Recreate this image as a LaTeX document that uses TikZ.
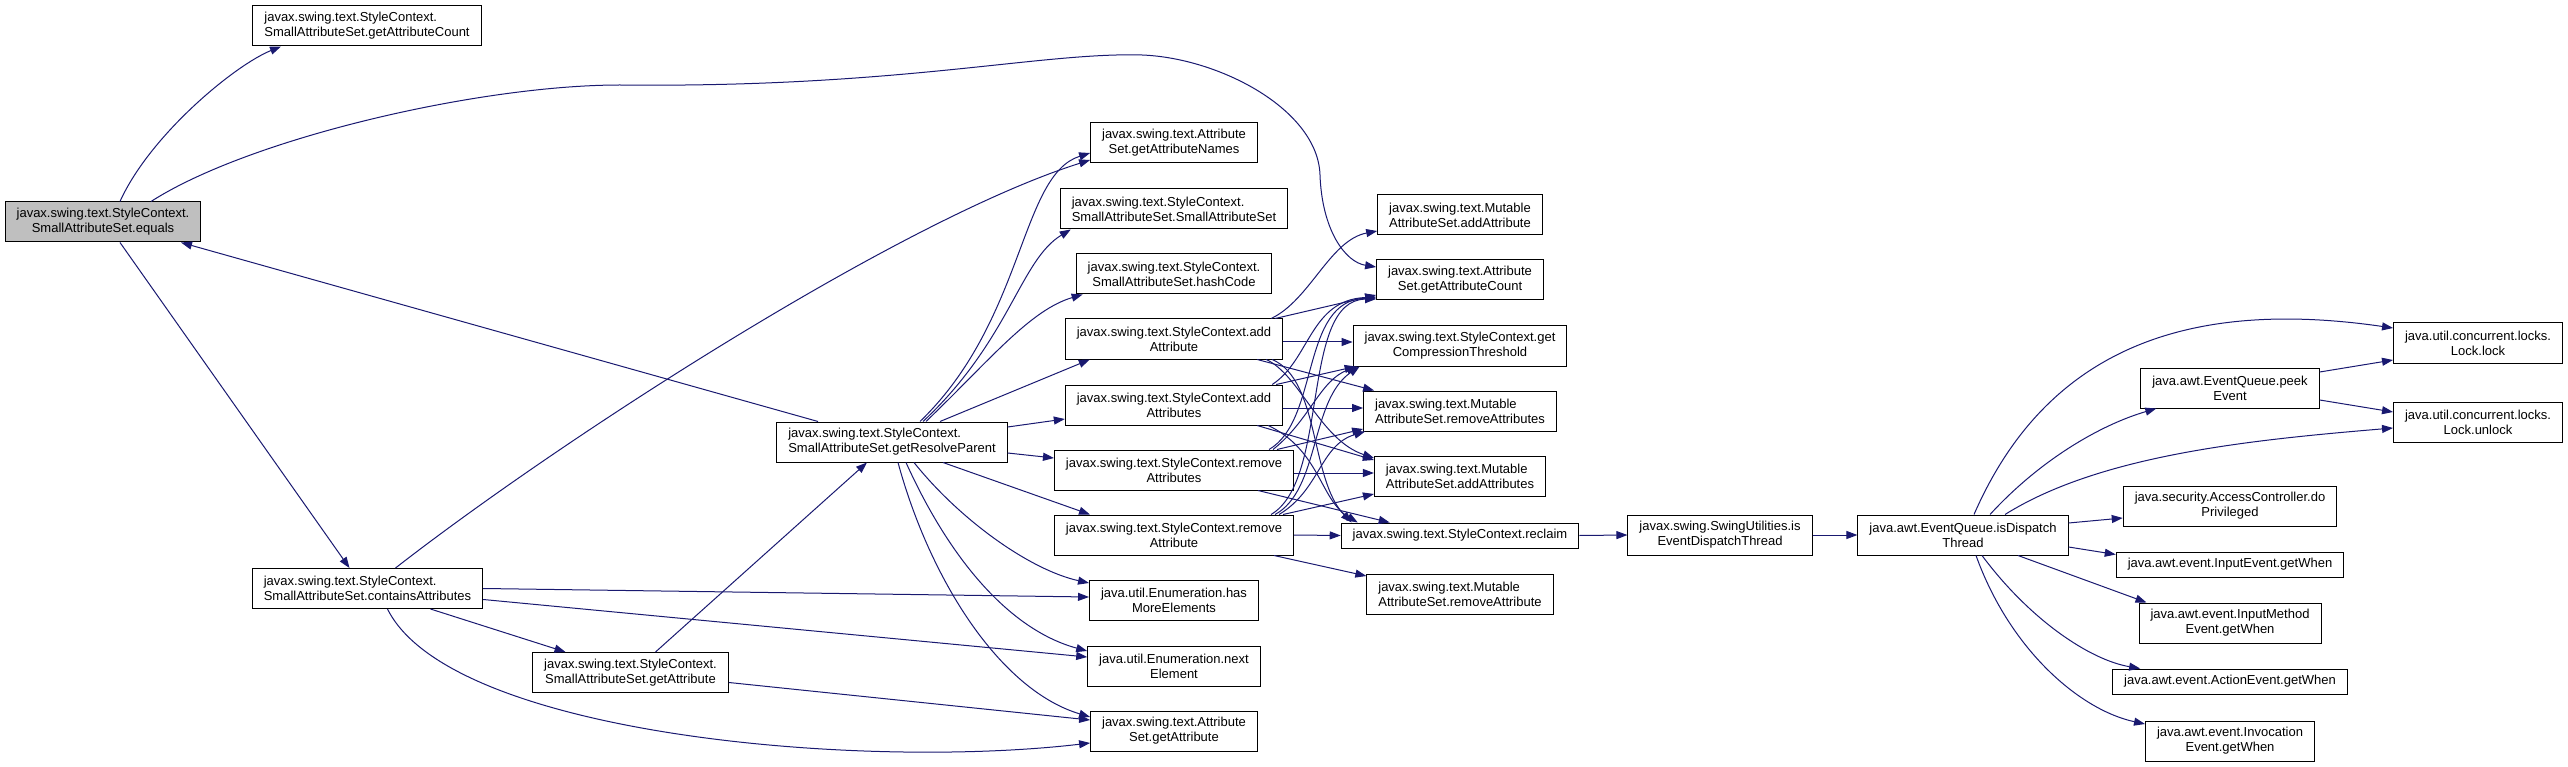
\documentclass[tikz,border=0pt]{standalone}
\usepackage{fontspec}
\setmainfont{Liberation Sans}
\usetikzlibrary{arrows.meta}
\definecolor{callblue}{HTML}{191970}
\newcommand{\twol}[2]{\setbox0=\hbox{#1}\setbox2=\hbox{#2}\dimen0=\wd0 \ifdim\wd2>\dimen0 \dimen0=\wd2 \fi
  \vbox{\hbox to\dimen0{\box0\hfil}\hbox to\dimen0{\hfil\box2\hfil}}}
\tikzset{
  fn/.style={draw=black,fill=white,line width=1pt,inner xsep=11.5pt,inner ysep=0pt,minimum height=40pt,font=\fontsize{13}{15}\selectfont},
  fnone/.style={fn,minimum height=25pt},
  call/.style={draw=callblue,line width=1pt,-{Triangle[length=11pt,width=8pt,fill=callblue]}}
}
\begin{document}
\begin{tikzpicture}[x=1pt,y=-1pt]
\useasboundingbox (0,0) rectangle (2568,767);
\node[fn,fill=black!25] (eq) at (103,222) {\twol{javax.swing.text.StyleContext.}{SmallAttributeSet.equals}};
\node[fn] (sgac) at (367,26) {\twol{javax.swing.text.StyleContext.}{SmallAttributeSet.getAttributeCount}};
\node[fn] (ca) at (367.5,588.5) {\twol{javax.swing.text.StyleContext.}{SmallAttributeSet.containsAttributes}};
\node[fn] (sga) at (630.5,672.5) {\twol{javax.swing.text.StyleContext.}{SmallAttributeSet.getAttribute}};
\node[fn] (grp) at (892,442) {\twol{javax.swing.text.StyleContext.}{SmallAttributeSet.getResolveParent}};
\node[fn] (agan) at (1174,143) {\twol{javax.swing.text.Attribute}{Set.getAttributeNames}};
\node[fn] (sas) at (1174,209) {\twol{javax.swing.text.StyleContext.}{SmallAttributeSet.SmallAttributeSet}};
\node[fn] (shc) at (1174,274) {\twol{javax.swing.text.StyleContext.}{SmallAttributeSet.hashCode}};
\node[fn] (scaa) at (1174,339) {\twol{javax.swing.text.StyleContext.add}{Attribute}};
\node[fn] (scas) at (1174,405) {\twol{javax.swing.text.StyleContext.add}{Attributes}};
\node[fn] (scrs) at (1174,470) {\twol{javax.swing.text.StyleContext.remove}{Attributes}};
\node[fn] (scra) at (1174,535) {\twol{javax.swing.text.StyleContext.remove}{Attribute}};
\node[fn] (hme) at (1174,600) {\twol{java.util.Enumeration.has}{MoreElements}};
\node[fn] (ne) at (1174,666) {\twol{java.util.Enumeration.next}{Element}};
\node[fn] (aga) at (1174,731) {\twol{javax.swing.text.Attribute}{Set.getAttribute}};
\node[fn] (maa) at (1460,215) {\twol{javax.swing.text.Mutable}{AttributeSet.addAttribute}};
\node[fn] (agc) at (1460,280) {\twol{javax.swing.text.Attribute}{Set.getAttributeCount}};
\node[fn] (gct) at (1460,346) {\twol{javax.swing.text.StyleContext.get}{CompressionThreshold}};
\node[fn] (mrs) at (1460,411) {\twol{javax.swing.text.Mutable}{AttributeSet.removeAttributes}};
\node[fn] (mas) at (1460,476) {\twol{javax.swing.text.Mutable}{AttributeSet.addAttributes}};
\node[fnone] (rcl) at (1460,535.5) {javax.swing.text.StyleContext.reclaim};
\node[fn] (mra) at (1460,594) {\twol{javax.swing.text.Mutable}{AttributeSet.removeAttribute}};
\node[fn] (ied) at (1720,535) {\twol{javax.swing.SwingUtilities.is}{EventDispatchThread}};
\node[fn] (idt) at (1963,535) {\twol{java.awt.EventQueue.isDispatch}{Thread}};
\node[fn] (pe) at (2230,388) {\twol{java.awt.EventQueue.peek}{Event}};
\node[fn] (dp) at (2230,506) {\twol{java.security.AccessController.do}{Privileged}};
\node[fnone] (iew) at (2230,564.5) {java.awt.event.InputEvent.getWhen};
\node[fn] (imw) at (2230,623) {\twol{java.awt.event.InputMethod}{Event.getWhen}};
\node[fnone] (aew) at (2230,681.5) {java.awt.event.ActionEvent.getWhen};
\node[fn] (ivw) at (2230,741) {\twol{java.awt.event.Invocation}{Event.getWhen}};
\node[fn] (lk) at (2478,343) {\twol{java.util.concurrent.locks.}{Lock.lock}};
\node[fn] (ulk) at (2478,422) {\twol{java.util.concurrent.locks.}{Lock.unlock}};
\draw[call] ([xshift=17pt]eq.north) .. controls (150,135) and (235,65) .. ([xshift=-86pt]sgac.south);
\draw[call] ([xshift=48pt]eq.north) .. controls (250,138) and (480,85) .. (620,85) .. controls (900,88) and (1040,52) .. (1142,55) .. controls (1220,58) and (1318,110) .. (1320,175) .. controls (1322,230) and (1345,262) .. ([yshift=13pt]agc.west);
\draw[call] ([xshift=17pt]eq.south) -- ([xshift=-18pt]ca.north);
\draw[call] ([xshift=-74pt]grp.north) -- ([xshift=78pt]eq.south);
\draw[call] ([xshift=28pt]ca.north) .. controls (560,440) and (900,220) .. ([yshift=-17pt]agan.west);
\draw[call] ([xshift=63pt]ca.south) -- ([xshift=-65pt]sga.north);
\draw[call] (ca.east) -- ([yshift=3pt]hme.west);
\draw[call] ([yshift=-11pt]ca.east) -- ([yshift=9pt]ne.west);
\draw[call] ([xshift=20pt]ca.south) .. controls (450,735) and (860,770) .. ([yshift=-12pt]aga.west);
\draw[call] ([xshift=25pt]sga.north) -- ([xshift=-25pt]grp.south);
\draw[call] ([yshift=-10pt]sga.east) -- ([yshift=11pt]aga.west);
\draw[call] ([xshift=28pt]grp.north) .. controls (1025,320) and (1020,175) .. ([yshift=-10pt]agan.west);
\draw[call] ([xshift=31pt]grp.north) .. controls (1010,340) and (1020,260) .. ([xshift=11pt]sas.south west);
\draw[call] ([xshift=34pt]grp.north) .. controls (990,360) and (1030,310) .. ([xshift=7pt]shc.south west);
\draw[call] ([xshift=48pt]grp.north) -- ([xshift=25pt]scaa.south west);
\draw[call] ([yshift=15pt]grp.east) -- ([yshift=-14pt]scas.west);
\draw[call] ([yshift=-11pt]grp.east) -- ([yshift=12pt]scrs.west);
\draw[call] ([xshift=51pt]grp.south) -- ([xshift=36pt]scra.north west);
\draw[call] ([xshift=22pt]grp.south) .. controls (960,520) and (1030,570) .. ([yshift=17pt]hme.west);
\draw[call] ([xshift=14pt]grp.south) .. controls (950,560) and (1010,630) .. ([yshift=15pt]ne.west);
\draw[call] ([xshift=6pt]grp.south) .. controls (930,580) and (1000,690) .. ([yshift=14pt]aga.west);
\draw[call] ([xshift=-12pt]scaa.north east) .. controls (1310,300) and (1330,240) .. ([yshift=-16pt]maa.west);
\draw[call] ([xshift=-8pt]scaa.north east) -- ([yshift=-15pt]agc.west);
\draw[call] ([yshift=-3pt]scaa.east) -- ([yshift=4pt]gct.west);
\draw[call] ([xshift=-26pt]scaa.south east) -- ([xshift=11pt]mrs.north west);
\draw[call] ([xshift=-17pt]scaa.south east) .. controls (1300,375) and (1320,440) .. ([yshift=18pt]mas.west);
\draw[call] ([xshift=-11pt]scaa.south east) .. controls (1320,380) and (1310,480) .. ([xshift=11pt]rcl.north west);
\draw[call] ([xshift=-11pt]scas.north east) .. controls (1310,360) and (1310,300) .. ([yshift=-17pt]agc.west);
\draw[call] ([xshift=-7pt]scas.north east) -- ([xshift=3pt]gct.south west);
\draw[call] ([yshift=-3pt]scas.east) -- ([yshift=3pt]mrs.west);
\draw[call] ([xshift=-26pt]scas.south east) -- ([yshift=16pt]mas.west);
\draw[call] ([xshift=-15pt]scas.south east) .. controls (1320,450) and (1320,500) .. ([xshift=17pt]rcl.north west);
\draw[call] ([xshift=-25pt]scrs.north east) .. controls (1320,420) and (1300,300) .. ([yshift=-18pt]agc.west);
\draw[call] ([xshift=-21pt]scrs.north east) .. controls (1310,420) and (1320,380) .. ([xshift=5pt]gct.south west);
\draw[call] ([xshift=-17pt]scrs.north east) -- ([yshift=-18pt]mrs.west);
\draw[call] ([yshift=-3pt]scrs.east) -- ([yshift=3pt]mas.west);
\draw[call] ([xshift=-36pt]scrs.south east) -- ([xshift=49pt]rcl.north west);
\draw[call] ([xshift=-23pt]scra.north east) .. controls (1330,480) and (1300,300) .. ([yshift=-19pt]agc.west);
\draw[call] ([xshift=-19pt]scra.north east) .. controls (1320,490) and (1310,400) .. ([xshift=7pt]gct.south west);
\draw[call] ([xshift=-15pt]scra.north east) .. controls (1320,490) and (1320,445) .. ([xshift=2pt]mrs.south west);
\draw[call] ([xshift=-11pt]scra.north east) -- ([yshift=-18pt]mas.west);
\draw[call] (scra.east) -- (rcl.west);
\draw[call] ([xshift=-20pt]scra.south east) -- ([yshift=18pt]mra.west);
\draw[call] (rcl.east) -- (ied.west);
\draw[call] (ied.east) -- (idt.west);
\draw[call] ([xshift=11pt]idt.north) .. controls (2050,340) and (2200,300) .. ([yshift=15pt]lk.west);
\draw[call] ([xshift=27pt]idt.north) .. controls (2040,460) and (2100,425) .. ([xshift=16pt]pe.south west);
\draw[call] ([xshift=42pt]idt.north) .. controls (2100,455) and (2250,440) .. ([yshift=-6pt]ulk.west);
\draw[call] ([yshift=16pt]pe.east) -- ([yshift=-17pt]lk.west);
\draw[call] ([yshift=-12pt]pe.east) -- ([yshift=10pt]ulk.west);
\draw[call] ([yshift=12pt]idt.east) -- ([yshift=-12pt]dp.west);
\draw[call] ([yshift=-12pt]idt.east) -- ([yshift=10pt]iew.west);
\draw[call] ([xshift=55pt]idt.south) -- ([xshift=8pt]imw.north west);
\draw[call] ([xshift=19pt]idt.south) .. controls (2030,620) and (2090,660) .. ([xshift=28pt]aew.north west);
\draw[call] ([xshift=13pt]idt.south) .. controls (2010,650) and (2080,710) .. ([yshift=17pt]ivw.west);
\end{tikzpicture}
\end{document}
